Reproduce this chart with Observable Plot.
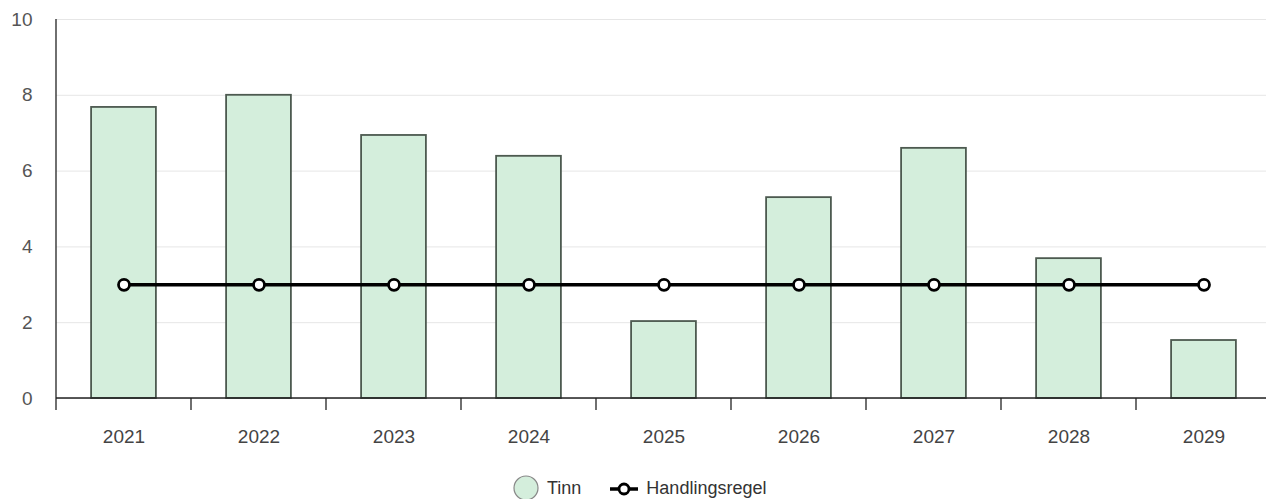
<!DOCTYPE html>
<html>
<head>
<meta charset="utf-8">
<script src="https://cdn.jsdelivr.net/npm/d3@7"></script>
<script src="https://cdn.jsdelivr.net/npm/@observablehq/plot@0.6"></script>
<style>
  html, body { margin: 0; padding: 0; background: #fff; overflow: hidden; width: 1266px; height: 499px; }
  #chart svg { display: block; }
  .legend { display: flex; align-items: center; font-family: "Liberation Sans", Arial, sans-serif; font-size: 18px; color: #333; position: absolute; top: 475px; left: 512px; }
  .legend .item { display: flex; align-items: center; margin-right: 16px; }
</style>
</head>
<body>
<div id="chart"></div>
<div class="legend">
  <div class="item"><svg width="28" height="26"><circle cx="14" cy="13" r="12" fill="#d4eedc" stroke="#888" stroke-width="1.2"/></svg><span style="margin-left:7px">Tinn</span></div>
  <div class="item" style="margin-left:12px"><svg width="30" height="26"><line x1="1" y1="14" x2="29" y2="14" stroke="#000" stroke-width="3.5"/><circle cx="15" cy="14" r="5" fill="#fff" stroke="#000" stroke-width="2.8"/></svg><span style="margin-left:7px">Handlingsregel</span></div>
</div>
<script>
const years = ["2021","2022","2023","2024","2025","2026","2027","2028","2029"];
const tinn = [7.68, 8.0, 6.94, 6.39, 2.03, 5.30, 6.60, 3.69, 1.53];
const handlingsregel = [3, 3, 3, 3, 3, 3, 3, 3, 3];
const yTicks = [0, 2, 4, 6, 8, 10];

const bars = years.map((y, i) => ({year: y, value: tinn[i]}));
const rule = years.map((y, i) => ({year: y, value: handlingsregel[i]}));

const font = "Liberation Sans, Arial, sans-serif";
const W = 1271;

const chart = Plot.plot({
  width: W,
  height: 458,
  marginLeft: 56,
  marginRight: 0,
  marginTop: 19,
  marginBottom: 60,
  style: {fontFamily: font, background: "#fff", maxWidth: "none"},
  x: {domain: years, paddingInner: 0.52, paddingOuter: 0.26, round: false, label: null},
  y: {domain: [0, 10], label: null},
  marks: [
    Plot.gridY(yTicks, {stroke: "#e6e6e6", strokeOpacity: 1, strokeWidth: 1}),
    Plot.axisY(yTicks, {tickSize: 0, tickPadding: 24, fontSize: 19, fill: "#555", label: null}),
    Plot.axisX({tickSize: 0, tickPadding: 31, fontSize: 19, fill: "#444", label: null}),
    Plot.barY(bars, {x: "year", y: "value", fill: "#d4eedc", stroke: "#4d5a50", strokeWidth: 1.8}),
    Plot.lineY(rule, {x: "year", y: "value", stroke: "#000", strokeWidth: 3.5}),
    Plot.dot(rule, {x: "year", y: "value", r: 5.5, fill: "#fff", stroke: "#000", strokeWidth: 2.8})
  ]
});

document.getElementById("chart").append(chart);

// axis lines and boundary ticks from the chart's own scales
const xs = chart.scale("x");
const ys = chart.scale("y");
const svg = d3.select(chart);
const y0 = ys.apply(0), y10 = ys.apply(10);
const bounds = years.map(y => xs.apply(y) - (xs.step - xs.bandwidth) / 2);
const g = svg.append("g").attr("stroke", "#222").attr("stroke-width", 1.3);
g.append("line").attr("x1", bounds[0]).attr("x2", bounds[0]).attr("y1", y10).attr("y2", y0 + 12);
bounds.slice(1).forEach(px => g.append("line").attr("x1", px).attr("x2", px).attr("y1", y0).attr("y2", y0 + 12));
g.append("line").attr("x1", bounds[0]).attr("x2", W).attr("y1", y0).attr("y2", y0);
</script>
</body>
</html>
